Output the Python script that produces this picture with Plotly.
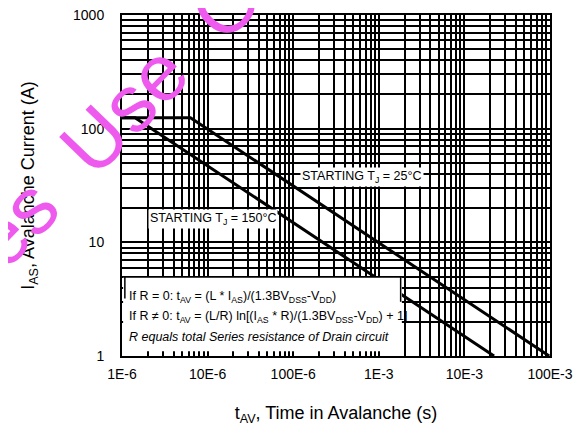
import plotly.graph_objects as go

# Data (corner points of the straight log-log segments)
t_25 = [1e-6, 6.3e-6, 0.098]
i_25 = [125, 125, 1]
t_150 = [1e-6, 1.42e-6, 0.0222]
i_150 = [125, 125, 1]

x_tickvals = [1e-6, 1e-5, 1e-4, 1e-3, 1e-2, 1e-1]
x_ticktext = ["1E-6", "10E-6", "100E-6", "1E-3", "10E-3", "100E-3"]
y_tickvals = [1, 10, 100, 1000]
y_ticktext = ["1", "10", "100", "1000"]

FONT = "Liberation Sans, Arial, sans-serif"

fig = go.Figure()
fig.add_trace(go.Scatter(x=t_25, y=i_25, mode="lines",
                         line=dict(color="black", width=3), showlegend=False))
fig.add_trace(go.Scatter(x=t_150, y=i_150, mode="lines",
                         line=dict(color="black", width=3), showlegend=False))

# white formula box (covers grid)
fig.add_shape(type="rect", xref="x", yref="y", x0=1.03e-6, x1=1.86e-3, y0=1.1, y1=4.95,
              fillcolor="white", line=dict(width=0), layer="above")
fig.add_shape(type="line", xref="x", yref="y", x0=1.03e-6, x1=1.86e-3, y0=4.95, y1=4.95,
              line=dict(color="black", width=1.5), layer="above")
fig.add_shape(type="line", xref="x", yref="y", x0=1.08e-6, x1=1.08e-6, y0=3.2, y1=4.95,
              line=dict(color="black", width=1.5), layer="above")
fig.add_shape(type="line", xref="x", yref="y", x0=1.8e-3, x1=1.8e-3, y0=3.0, y1=4.95,
              line=dict(color="black", width=1.5), layer="above")

lab_font = dict(family=FONT, size=12.5, color="black")
fig.add_annotation(x=-3.196, y=1.574, xref="x", yref="y",
                   text="STARTING T<sub>J</sub> = 25°C", showarrow=False,
                   bgcolor="white", font=lab_font)
fig.add_annotation(x=-4.937, y=1.205, xref="x", yref="y",
                   text="STARTING T<sub>J</sub> = 150°C", showarrow=False,
                   bgcolor="white", font=lab_font)

box_font = dict(family=FONT, size=12.5, color="black")
fig.add_annotation(x=-5.94, y=0.519, xref="x", yref="y", xanchor="left",
                   text="If R = 0: t<sub>AV</sub> = (L * I<sub>AS</sub>)/(1.3BV<sub>DSS</sub>-V<sub>DD</sub>)",
                   showarrow=False, font=box_font)
fig.add_annotation(x=-5.94, y=0.343, xref="x", yref="y", xanchor="left",
                   text="If R ≠ 0: t<sub>AV</sub> = (L/R) ln[(I<sub>AS</sub> * R)/(1.3BV<sub>DSS</sub>-V<sub>DD</sub>) + 1]",
                   showarrow=False, font=box_font)
fig.add_annotation(x=-5.94, y=0.167, xref="x", yref="y", xanchor="left",
                   text="<i>R equals total Series resistance of Drain circuit</i>",
                   showarrow=False, font=box_font)

# pink watermark
fig.add_annotation(x=-0.114, y=0.567, xref="paper", yref="paper",
                   text="Samples\u00a0 Use\u00a0 Only",
                   showarrow=False, textangle=-46, xanchor="center", yanchor="middle",
                   font=dict(family=FONT, size=80, color="rgb(238,90,238)"))

axis_common = dict(
    type="log", showline=True, linecolor="black", linewidth=2, mirror=True,
    showgrid=True, gridcolor="black", gridwidth=2, ticks="", automargin=False,
    ticklabeloverflow="allow",
    tickfont=dict(family=FONT, size=14, color="black"),
    minor=dict(dtick="D1", showgrid=True, gridcolor="black", gridwidth=1.7, ticks=""),
    zeroline=False,
)

fig.update_xaxes(**axis_common, range=[-6, -1], tickvals=x_tickvals, ticktext=x_ticktext,
                 ticklabelstandoff=4,
                 title=dict(text="t<sub>AV</sub>, Time in Avalanche (s)",
                            font=dict(family=FONT, size=18, color="black"), standoff=26))
fig.update_yaxes(**axis_common, range=[0, 3], tickvals=y_tickvals, ticktext=y_ticktext,
                 ticklabelstandoff=13,
                 title=dict(text="I<sub>AS</sub>, Avalanche Current (A)",
                            font=dict(family=FONT, size=18, color="black"), standoff=34))

# margins compensate for the browser's default 8px page margin
fig.update_layout(width=585, height=441, margin=dict(l=114, r=43, t=7, b=93),
                  paper_bgcolor="white", plot_bgcolor="white")

fig.write_html("out.html")
